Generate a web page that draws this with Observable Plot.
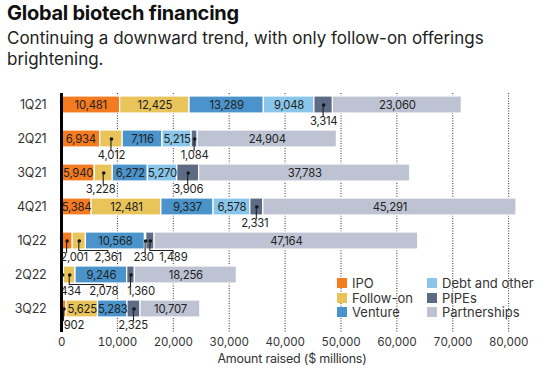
<!DOCTYPE html>
<html><head><meta charset="utf-8">
<script src="https://cdn.jsdelivr.net/npm/d3@7"></script>
<script src="https://cdn.jsdelivr.net/npm/@observablehq/plot@0.6"></script>
<style>
body{margin:0;background:#fff;font-family:Inter,"DejaVu Sans",sans-serif;color:#222;}
#wrap{position:relative;width:554px;height:371px;overflow:hidden;}
#title{position:absolute;left:7px;top:1px;font-size:20px;font-weight:700;letter-spacing:-0.25px;color:#111;line-height:24px;white-space:nowrap;}
#sub{position:absolute;left:7px;top:28px;font-size:17px;line-height:21px;color:#222;white-space:nowrap;}
#chart{position:absolute;left:0;top:78px;}
#legend{position:absolute;left:337px;top:276px;display:grid;grid-template-columns:90px 110px;grid-auto-flow:column;grid-template-rows:repeat(3,14.5px);font-size:13px;color:#333;}
.item{display:flex;align-items:center;gap:5px;white-space:nowrap;}
.sw{width:10px;height:10px;flex:none;}
svg text{letter-spacing:-0.2px;}
</style></head>
<body><div id="wrap">
<div id="title">Global biotech financing</div>
<div id="sub">Continuing a downward trend, with only follow-on offerings<br>brightening.</div>
<div id="chart"></div>
<div id="legend"></div>
</div>
<script>
const quarters = ["1Q21","2Q21","3Q21","4Q21","1Q22","2Q22","3Q22"];
const series = ["IPO","Follow-on","Venture","Debt and other","PIPEs","Partnerships"];
const colors = ["#f47b20","#e8c45b","#4a94cb","#89c6ea","#5e6b84","#bec3d3"];
const ipo = [10481, 6934, 5940, 5384, 2001, 434, 902];
const followOn = [12425, 4012, 3228, 12481, 2361, 2078, 5625];
const venture = [13289, 7116, 6272, 9337, 10568, 9246, 5283];
const debt = [9048, 5215, 5270, 6578, 230, 0, 0];
const pipes = [3314, 1084, 3906, 2331, 1489, 1360, 2325];
const partnerships = [23060, 24904, 37783, 45291, 47164, 18256, 10707];
const xTicks = [0, 10000, 20000, 30000, 40000, 50000, 60000, 70000, 80000];
const xLabel = "Amount raised ($ millions)";
// layout: pixel shifts of callout labels below bars
const calloutShift = {"1Q22|IPO":7,"1Q22|Follow-on":29,"1Q22|Debt and other":-2,"1Q22|PIPEs":23,
  "2Q22|IPO":8,"2Q22|Follow-on":34,"2Q22|PIPEs":10,"3Q22|IPO":10,"3Q22|PIPEs":-1,"3Q21|Follow-on":-3,"4Q21|PIPEs":-2};

const W = 554, ML = 61, MR = 38;
const valuesBySeries = [ipo, followOn, venture, debt, pipes, partnerships];
const fmt = d3.format(",");
const maxTotal = d3.max(quarters, (q, i) => d3.sum(valuesBySeries, a => a[i]));
const unitsPerPx = maxTotal / (W - ML - MR);
const segments = [];
quarters.forEach((q, i) => {
  let acc = 0;
  series.forEach((s, j) => {
    const v = valuesBySeries[j][i];
    if (v > 0) segments.push({quarter: q, series: s, value: v, x1: acc, x2: acc + v, mid: acc + v / 2});
    acc += v;
  });
});
const inside = segments.filter(d => d.value >= 5000);
const callouts = segments.filter(d => d.value < 5000).map(d => {
  const shift = calloutShift[d.quarter + "|" + d.series] || 0;
  return {...d, shift, labelX: d.mid + shift * unitsPerPx};
});

const plot = Plot.plot({
  width: W, height: 293,
  marginLeft: ML, marginRight: MR, marginTop: 15, marginBottom: 39,
  style: {fontFamily: "Inter, sans-serif", fontSize: "11px", color: "#333", background: "transparent"},
  x: {domain: [0, maxTotal]},
  y: {domain: quarters, paddingInner: 0.507, paddingOuter: 0.2535, insetTop: -7.25, insetBottom: 4.75},
  color: {domain: series, range: colors},
  marks: [
    Plot.ruleX(xTicks.slice(1), {stroke: "#333", strokeDasharray: "1,1.5", strokeWidth: 1}),
    Plot.barX(segments, {x1: "x1", x2: "x2", y: "quarter", fill: "series", stroke: "white", strokeWidth: 1.2}),
    Plot.text(inside, {x: "mid", y: "quarter", text: d => fmt(d.value), fill: "#222", fontSize: 11.3}),
    Plot.dot(callouts, {x: "mid", y: "quarter", r: 1.8, fill: "#111"}),
    Plot.text(callouts, {x: "labelX", y: "quarter", text: d => fmt(d.value), dy: 16.5, fill: "#222", fontSize: 11.3}),
    Plot.ruleX([0], {stroke: "#000", strokeWidth: 3}),
    Plot.axisX({ticks: xTicks, tickSize: 0, tickPadding: 5, tickFormat: fmt, label: null, fontSize: 11.5, fill: "#333"}),
    Plot.axisY({tickSize: 0, tickPadding: 15, label: null, fontSize: 12.5, fill: "#333"}),
    Plot.text([xLabel], {text: d => d, frameAnchor: "bottom", dy: 30, dx: 3, fontSize: 12.5, fill: "#333"})
  ]
});
document.getElementById("chart").appendChild(plot);

// leader lines, positioned with the plot's own scales
const xs = plot.scale("x"), ys = plot.scale("y");
const bw = ys.bandwidth;
const g = d3.select(plot).append("g").attr("fill", "none").attr("stroke", "#222").attr("stroke-width", 1.1);
callouts.forEach(d => {
  const px = xs.apply(d.mid);
  const lx = xs.apply(d.labelX);
  const top = ys.apply(d.quarter);
  const cy = top + bw / 2, bottom = top + bw;
  const path = Math.abs(d.shift) > 15
    ? `M${px},${cy}V${bottom + 1.5}H${lx}V${bottom + 4}`
    : `M${px},${cy}V${bottom + 4}`;
  g.append("path").attr("d", path);
});

const legend = d3.select("#legend");
series.forEach((s, j) => {
  const it = legend.append("div").attr("class", "item");
  it.append("div").attr("class", "sw").style("background", colors[j]);
  it.append("span").text(s);
});
</script>
</body></html>
